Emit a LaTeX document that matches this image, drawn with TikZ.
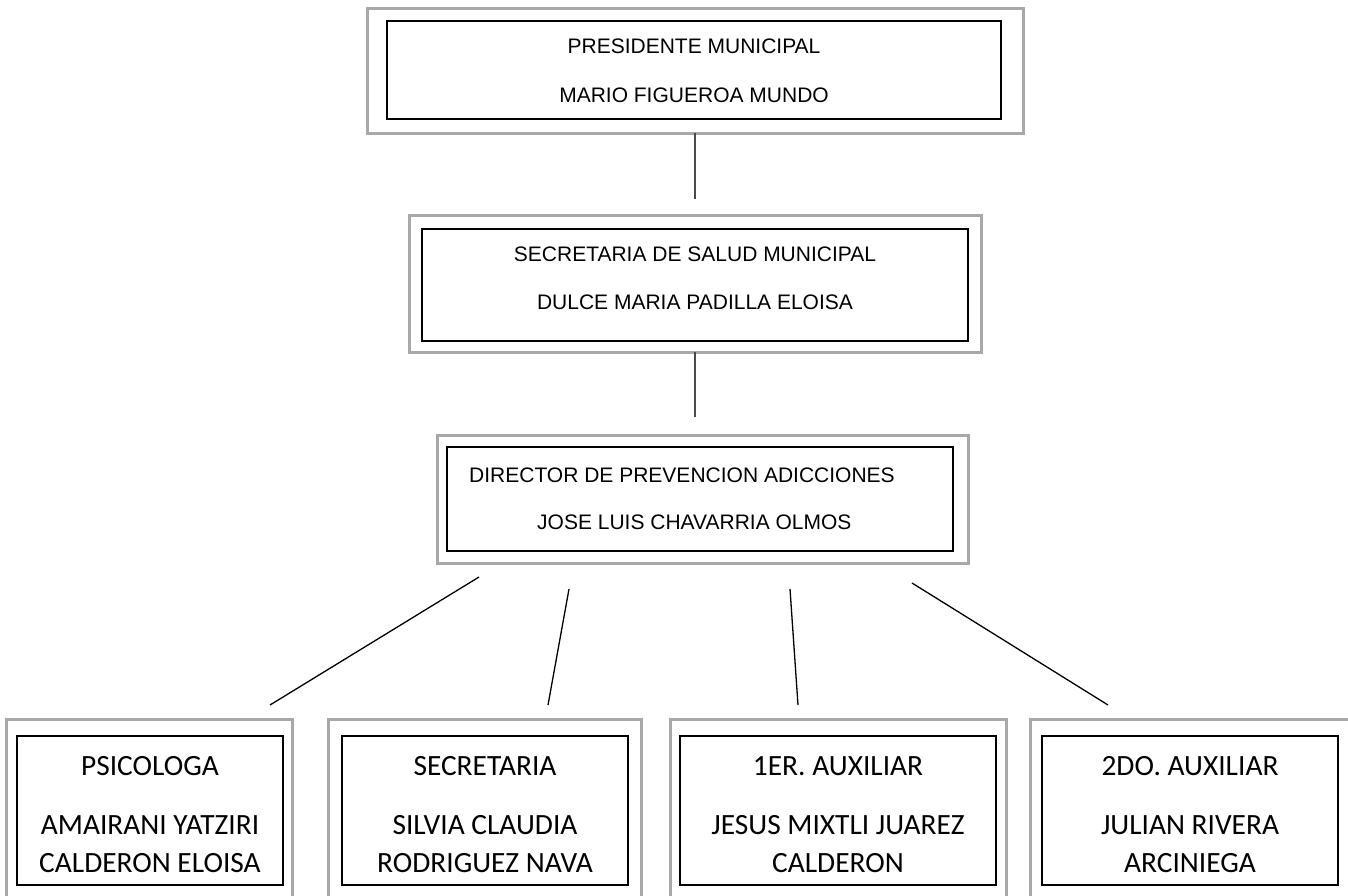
\documentclass[tikz,border=0pt]{standalone}
\usepackage{fontspec}
\setmainfont{Liberation Sans}
\newfontfamily\calib{Carlito}
\definecolor{outergray}{HTML}{A8A8A8}
\definecolor{linegray}{HTML}{4A4A4A}
\tikzset{
  outerbox/.style={draw=outergray, line width=3pt, inner sep=0pt, outer sep=0pt},
  innerbox/.style={draw=black, line width=2pt, inner sep=0pt, outer sep=0pt},
  toptext/.style={font=\fontsize{21}{25}\selectfont, anchor=base, inner sep=0pt},
  lefttext/.style={font=\fontsize{21}{25}\selectfont, anchor=base west, inner sep=0pt},
  bottext/.style={font=\calib\fontsize{29.4}{35}\selectfont, anchor=base, inner sep=0pt},
  vconn/.style={draw=linegray, line width=2pt},
  dconn/.style={draw=black, line width=1.3pt}
}
\begin{document}
\begin{tikzpicture}[x=1pt,y=-1pt]
\useasboundingbox (0,0) rectangle (1348,895);
\clip (0,0) rectangle (1348,895);
% level 1
\node[outerbox, minimum width=656pt, minimum height=125pt] (o1) at (695,70.5) {};
\node[innerbox, minimum width=614pt, minimum height=98pt] (i1) at (694,70) {};
\node[toptext] (t1a) at (694,53) {PRESIDENTE MUNICIPAL};
\node[toptext] (t1b) at (694,102) {MARIO FIGUEROA MUNDO};
% level 2
\node[outerbox, minimum width=572pt, minimum height=137pt] (o2) at (695,283.5) {};
\node[innerbox, minimum width=546pt, minimum height=112pt] (i2) at (695,285) {};
\node[toptext] (t2a) at (695,261) {SECRETARIA DE SALUD MUNICIPAL};
\node[toptext] (t2b) at (695,309) {DULCE MARIA PADILLA ELOISA};
% level 3
\node[outerbox, minimum width=531pt, minimum height=128pt] (o3) at (702.5,499) {};
\node[innerbox, minimum width=506pt, minimum height=104pt] (i3) at (700,499) {};
\node[lefttext] (t3a) at (469,482) {DIRECTOR DE PREVENCION ADICCIONES};
\node[lefttext] (t3b) at (537,529) {JOSE LUIS CHAVARRIA OLMOS};
% level 4
\node[outerbox, minimum width=286pt, minimum height=200pt] (oa) at (149,819) {};
\node[innerbox, minimum width=266pt, minimum height=149pt] (ia) at (150,810) {};
\node[bottext] (ta1) at (150,775) {PSICOLOGA};
\node[bottext] (ta2) at (150,834) {AMAIRANI YATZIRI};
\node[bottext] (ta3) at (150,872) {CALDERON ELOISA};
\node[outerbox, minimum width=313pt, minimum height=200pt] (ob) at (484.5,819) {};
\node[innerbox, minimum width=286pt, minimum height=149pt] (ib) at (485,810) {};
\node[bottext] (tb1) at (485,775) {SECRETARIA};
\node[bottext] (tb2) at (485,834) {SILVIA CLAUDIA};
\node[bottext] (tb3) at (485,872) {RODRIGUEZ NAVA};
\node[outerbox, minimum width=336pt, minimum height=200pt] (oc) at (838,819) {};
\node[innerbox, minimum width=316pt, minimum height=149pt] (ic) at (838,810) {};
\node[bottext] (tc1) at (838,775) {1ER. AUXILIAR};
\node[bottext] (tc2) at (838,834) {JESUS MIXTLI JUAREZ};
\node[bottext] (tc3) at (838,872) {CALDERON};
\node[outerbox, minimum width=330pt, minimum height=200pt] (od) at (1195,819) {};
\node[innerbox, minimum width=296pt, minimum height=149pt] (id) at (1190,810) {};
\node[bottext] (td1) at (1190,775) {2DO. AUXILIAR};
\node[bottext] (td2) at (1190,834) {JULIAN RIVERA};
\node[bottext] (td3) at (1190,872) {ARCINIEGA};
% connectors
\coordinate (e1) at (695,199);
\coordinate (e2) at (695,417);
\draw[vconn] (o1.south) -- (e1);
\draw[vconn] (o2.south) -- (e2);
\coordinate (s1) at (479,577); \coordinate (f1) at (270,705);
\coordinate (s2) at (569,589); \coordinate (f2) at (548,705);
\coordinate (s3) at (790,589); \coordinate (f3) at (798,705);
\coordinate (s4) at (912,583); \coordinate (f4) at (1108,705);
\draw[dconn] (s1) -- (f1);
\draw[dconn] (s2) -- (f2);
\draw[dconn] (s3) -- (f3);
\draw[dconn] (s4) -- (f4);
\end{tikzpicture}
\end{document}
